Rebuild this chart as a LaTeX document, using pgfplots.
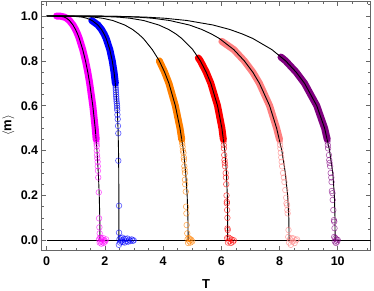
\documentclass[border=0pt]{standalone}
\usepackage{pgfplots}
\pgfplotsset{compat=1.18}
\usepackage{fontspec}
\setmainfont{Liberation Sans}
\definecolor{mmag}{rgb}{1,0,1}
\definecolor{mblue}{rgb}{0,0,1}
\definecolor{morange}{rgb}{1,0.5,0}
\definecolor{mred}{rgb}{1,0,0}
\definecolor{mpink}{rgb}{1,0.5,0.5}
\definecolor{mpurple}{rgb}{0.5,0,0.5}
\definecolor{framegray}{rgb}{0.4,0.4,0.4}
\begin{document}
\begin{tikzpicture}
\path[use as bounding box] (-41.7pt,-40pt) rectangle (332.3pt,250pt);
\begin{axis}[
  scale only axis, width=329pt, height=249pt,
  xmin=-0.172, xmax=11.134, ymin=-0.0432, ymax=1.0669,
  xtick={0,2,4,6,8,10},
  minor xtick={0.5,1,1.5,2.5,3,3.5,4.5,5,5.5,6.5,7,7.5,8.5,9,9.5,10.5,11},
  ytick={0,0.2,0.4,0.6,0.8,1.0},
  minor ytick={0.05,0.1,0.15,0.25,0.3,0.35,0.45,0.5,0.55,0.65,0.7,0.75,0.85,0.9,0.95,1.05},
  tick align=inside,
  major tick length=4.5pt, minor tick length=2.5pt,
  axis line style={framegray, line width=0.8pt},
  every tick/.style={framegray, line width=0.6pt},
  /pgf/number format/assume math mode=true,
  tick label style={font=\bfseries\fontsize{12.5}{14}\selectfont, black},
  xticklabel style={yshift=-3pt},
  yticklabel style={/pgf/number format/.cd, fixed, fixed zerofill, precision=1},
  xlabel={\textbf{T}},
  ylabel={\textbf{$\langle$m$\rangle$}},
  label style={font=\bfseries\fontsize{13}{15}\selectfont, inner sep=0pt},
  xlabel style={at={(axis description cs:0.5,-0.136)}, anchor=center},
  ylabel style={at={(axis description cs:-0.101,0.5)}, anchor=center},
  clip=true,
]
% ---------- dense bands of data points ----------
\addplot[mmag, line width=7pt, line cap=round, line join=round] table {
0.34 1.0
0.481 0.999
0.608 0.995
0.685 0.99
0.781 0.98
0.903 0.96
0.990 0.94
1.060 0.92
1.119 0.90
1.238 0.85
1.333 0.80
1.411 0.75
1.477 0.70
1.584 0.60
1.666 0.50
1.70 0.45
};
\addplot[mblue, line width=7pt, line cap=round, line join=round] table {
1.55 0.98
1.758 0.96
1.882 0.94
1.972 0.92
2.043 0.90
2.169 0.85
2.253 0.80
2.314 0.75
2.359 0.70
};
\addplot[morange, line width=7pt, line cap=round, line join=round] table {
3.87 0.80
4.05 0.75
4.20 0.70
4.42 0.60
4.58 0.50
4.64 0.45
};
\addplot[mred, line width=7pt, line cap=round, line join=round] table {
5.21 0.813
5.28 0.80
5.48 0.75
5.64 0.70
5.87 0.60
6.02 0.50
6.07 0.45
};
\addplot[mpink, line width=7pt, line cap=round, line join=round] table {
6.02 0.887
6.43 0.85
6.79 0.80
7.08 0.75
7.31 0.70
7.66 0.60
7.90 0.50
8.00 0.45
};
\addplot[mpurple, line width=7pt, line cap=round, line join=round] table {
8.05 0.817
8.21 0.80
8.57 0.75
8.86 0.70
9.28 0.60
9.55 0.50
9.64 0.45
};
% ---------- sparse data points ----------
\pgfplotsset{circ/.style={only marks, mark=o, mark size=2.8pt, mark options={line width=0.6pt, draw opacity=0.65}}}
\addplot[mmag, circ] table {
1.70 0.46
1.705 0.45
1.71 0.44
1.715 0.43
1.72 0.42
1.72 0.40
1.73 0.38
1.74 0.366
1.75 0.35
1.755 0.33
1.76 0.31
1.77 0.28
1.79 0.214
1.80 0.098
1.81 0.058
1.82 0.031
1.80 0.005
1.82 -0.01
1.84 0.012
1.85 -0.005
1.87 0.008
1.88 -0.015
1.90 0.003
1.92 -0.008
1.94 0.01
1.96 -0.012
1.98 0.0
2.01 -0.005
2.04 0.004
};
\addplot[mblue, circ] table {
2.365 0.69
2.37 0.68
2.375 0.67
2.38 0.66
2.385 0.65
2.39 0.64
2.395 0.63
2.40 0.62
2.41 0.61
2.418 0.60
2.42 0.59
2.425 0.58
2.43 0.56
2.44 0.54
2.45 0.51
2.46 0.477
2.46 0.355
2.485 0.154
2.485 0.034
2.48 -0.02
2.50 0.005
2.52 -0.01
2.54 0.01
2.56 -0.005
2.58 0.0
2.60 0.012
2.62 -0.008
2.65 0.004
2.68 -0.01
2.71 0.006
2.74 -0.004
2.77 0.008
2.80 -0.006
2.84 0.003
2.88 -0.003
2.92 0.004
2.96 -0.002
2.99 0.0
};
\addplot[morange, circ] table {
4.65 0.44
4.66 0.43
4.67 0.417
4.68 0.40
4.70 0.39
4.71 0.37
4.72 0.358
4.73 0.33
4.74 0.315
4.75 0.30
4.75 0.27
4.76 0.25
4.78 0.217
4.79 0.15
4.80 0.12
4.81 0.068
4.83 0.031
4.84 0.005
4.86 -0.012
4.88 0.01
4.90 -0.004
4.92 0.006
4.94 -0.01
4.97 0.002
5.00 -0.005
};
\addplot[mred, circ] table {
6.08 0.44
6.085 0.425
6.09 0.41
6.10 0.38
6.11 0.358
6.12 0.345
6.13 0.33
6.15 0.30
6.16 0.28
6.17 0.25
6.18 0.20
6.19 0.172
6.19 0.165
6.20 0.135
6.21 0.10
6.21 0.053
6.22 0.046
6.20 0.01
6.23 -0.01
6.25 0.012
6.28 -0.004
6.30 0.008
6.33 -0.012
6.36 0.003
6.40 -0.006
6.43 0.0
};
\addplot[mpink, circ] table {
8.01 0.44
8.02 0.425
8.03 0.41
8.045 0.39
8.06 0.37
8.075 0.35
8.09 0.33
8.12 0.30
8.15 0.28
8.17 0.26
8.20 0.224
8.23 0.19
8.24 0.165
8.26 0.157
8.27 0.135
8.28 0.12
8.31 0.046
8.30 0.015
8.33 -0.01
8.36 0.005
8.39 -0.02
8.42 0.01
8.45 -0.005
8.48 0.008
8.52 -0.012
8.56 0.0
8.60 0.004
};
\addplot[mpurple, circ] table {
9.65 0.44
9.66 0.425
9.67 0.41
9.70 0.38
9.71 0.358
9.72 0.345
9.74 0.33
9.76 0.30
9.78 0.28
9.79 0.26
9.80 0.22
9.82 0.21
9.83 0.18
9.85 0.135
9.87 0.09
9.88 0.083
9.89 0.054
9.88 0.015
9.90 -0.005
9.92 0.01
9.94 -0.012
9.96 0.004
9.98 -0.006
10.00 0.002
};
% ---------- black curves ----------
\addplot[black, line width=0.9pt] coordinates {(0,0) (11.2,0)};
\addplot[black, line width=0.9pt] table {
0 1
0.37 0.9999
0.481 0.999
0.608 0.995
0.685 0.99
0.781 0.98
0.903 0.96
0.990 0.94
1.060 0.92
1.119 0.90
1.238 0.85
1.333 0.80
1.411 0.75
1.477 0.70
1.584 0.60
1.666 0.50
1.728 0.40
1.774 0.30
1.806 0.20
1.824 0.10
1.830 0.0
};
\addplot[black, line width=0.9pt] table {
0 1
0.908 0.999
1.216 0.995
1.377 0.99
1.558 0.98
1.758 0.96
1.882 0.94
1.972 0.92
2.043 0.90
2.169 0.85
2.253 0.80
2.314 0.75
2.359 0.70
2.418 0.60
2.451 0.50
2.468 0.40
2.476 0.30
2.479 0.20
2.480 0.0
};
\addplot[black, line width=0.9pt] table {
0 1
1.10 0.999
1.62 0.995
1.92 0.99
2.27 0.98
2.68 0.96
2.95 0.94
3.15 0.92
3.32 0.90
3.63 0.85
3.87 0.80
4.05 0.75
4.20 0.70
4.42 0.60
4.58 0.50
4.70 0.40
4.776 0.30
4.827 0.20
4.853 0.10
4.86 0
};
\addplot[black, line width=0.9pt] table {
0 1
1.74 0.999
2.47 0.995
2.87 0.99
3.33 0.98
3.85 0.96
4.19 0.94
4.44 0.92
4.64 0.90
5.02 0.85
5.28 0.80
5.48 0.75
5.64 0.70
5.87 0.60
6.02 0.50
6.12 0.40
6.176 0.30
6.206 0.20
6.218 0.10
6.22 0
};
\addplot[black, line width=0.9pt] table {
0 1
2.21 0.999
3.13 0.995
3.64 0.99
4.22 0.98
4.90 0.96
5.33 0.94
5.66 0.92
5.93 0.90
6.43 0.85
6.79 0.80
7.08 0.75
7.31 0.70
7.66 0.60
7.90 0.50
8.08 0.40
8.20 0.30
8.28 0.20
8.32 0.10
8.33 0
};
\addplot[black, line width=0.9pt] table {
0 1
2.29 0.999
3.42 0.995
4.06 0.99
4.82 0.98
5.71 0.96
6.29 0.94
6.72 0.92
7.08 0.90
7.74 0.85
8.21 0.80
8.57 0.75
8.86 0.70
9.28 0.60
9.55 0.50
9.72 0.40
9.83 0.30
9.885 0.20
9.907 0.10
9.91 0
};
\end{axis}
\end{tikzpicture}
\end{document}
